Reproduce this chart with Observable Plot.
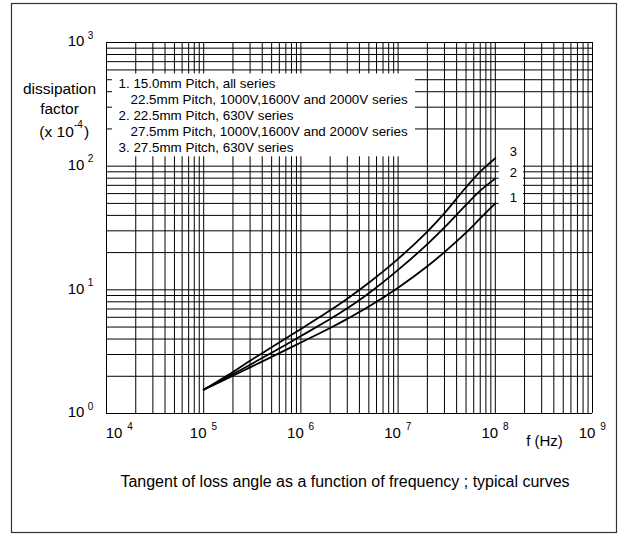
<!DOCTYPE html>
<html>
<head>
<meta charset="utf-8">
<script src="https://cdn.jsdelivr.net/npm/d3@7"></script>
<script src="https://cdn.jsdelivr.net/npm/@observablehq/plot@0.6"></script>
<style>
  html, body { margin: 0; padding: 0; background: #fff; }
  #chart svg { display: block; }
</style>
</head>
<body>
<div id="chart"></div>
<script>
// ---- data ----
const frequencies = [1e5, 2e5, 3e5, 5e5, 1e6, 2e6, 3e6, 5e6, 1e7, 2e7, 3e7, 5e7, 7e7, 1e8];
const curve1 = [1.56, 2.02, 2.36, 2.87, 3.75, 4.91, 5.82, 7.32, 10.4, 15.5, 20.2, 29.0, 37.8, 50.0];
const curve2 = [1.56, 2.08, 2.48, 3.10, 4.23, 5.80, 7.09, 9.39, 14.5, 23.4, 32.0, 48.7, 63.4, 79.3];
const curve3 = [1.56, 2.17, 2.67, 3.43, 4.82, 6.83, 8.48, 11.4, 17.8, 29.6, 41.7, 67.5, 90.3, 116];
const curveNames = ["1", "2", "3"];

const xDecades = [1e4, 1e5, 1e6, 1e7, 1e8, 1e9];
const xExponents = ["4", "5", "6", "7", "8", "9"];
const yDecades = [1, 10, 100, 1000];
const yExponents = ["0", "1", "2", "3"];

const legendLines = [
  "1. 15.0mm Pitch, all series",
  "22.5mm Pitch, 1000V,1600V and 2000V series",
  "2. 22.5mm Pitch, 630V series",
  "27.5mm Pitch, 1000V,1600V and 2000V series",
  "3. 27.5mm Pitch, 630V series"
];
const yTitleLines = ["dissipation", "factor"];
const yTitleUnit = ["(x 10", "-4", ")"];
const xTitle = "f (Hz)";
const caption = "Tangent of loss angle as a function of frequency ; typical curves";

// ---- build table ----
const series = [curve1, curve2, curve3];
const rows = [];
series.forEach((vals, s) => vals.forEach((v, i) => rows.push({f: frequencies[i], v, name: curveNames[s]})));
const ends = series.map((vals, s) => ({f: frequencies[frequencies.length - 1], v: vals[vals.length - 1], name: curveNames[s]}));

const xGrid = d3.scaleLog().domain([1e4, 1e9]).ticks();
const yGrid = d3.scaleLog().domain([1, 1000]).ticks();

const FONT = "'Liberation Sans', Arial, Helvetica, sans-serif";
const C = {textAnchor: "middle", lineAnchor: "middle"};

const marks = [
  Plot.ruleX(xGrid, {x: d => d, stroke: "#000", strokeWidth: 1}),
  Plot.ruleY(yGrid, {y: d => d, stroke: "#000", strokeWidth: 1}),
  // white boxes behind legend and curve numbers
  Plot.rect([0], {x1: 1.15e4, x2: 1.51e7, y1: 119, y2: 557, fill: "white"}),
  Plot.rect([0], {x1: 1.1e8, x2: 1.95e8, y1: 42, y2: 166, fill: "white"}),
  // curves
  Plot.line(rows, {x: "f", y: "v", z: "name", curve: "catmull-rom", stroke: "#000", strokeWidth: 1.8}),
  Plot.text(ends, {x: "f", y: "v", text: "name", dx: 18, dy: -6, fontSize: 13, ...C}),
  // legend
  ...legendLines.map((t, i) => Plot.text([t], {
    text: d => d, frameAnchor: "top-left", textAnchor: "start", lineAnchor: "middle",
    dx: i % 2 ? 24 : 12, dy: 41 + 16 * i, fontSize: 13.4
  })),
  // x tick labels
  Plot.text(xDecades.slice(0, 1), {x: d => d, text: () => "10", frameAnchor: "bottom", dx: 7.5, dy: 20, fontSize: 15, ...C}),
  Plot.text(xDecades.slice(0, 1), {x: d => d, text: () => xExponents[0], frameAnchor: "bottom", dx: 23.5, dy: 13.5, fontSize: 10, ...C}),
  Plot.text(xDecades.slice(1), {x: d => d, text: () => "10", frameAnchor: "bottom", dx: -5.5, dy: 20, fontSize: 15, ...C}),
  Plot.text(xDecades.slice(1), {x: d => d, text: (d, i) => xExponents[i + 1], frameAnchor: "bottom", dx: 10.5, dy: 13.5, fontSize: 10, ...C}),
  // y tick labels
  Plot.text(yDecades, {y: d => d, text: () => "10", frameAnchor: "left", dx: -30.5, dy: -1, fontSize: 15, ...C}),
  Plot.text(yDecades, {y: d => d, text: (d, i) => yExponents[i], frameAnchor: "left", dx: -16, dy: -7, fontSize: 10, ...C}),
  // y title
  Plot.text([yTitleLines[0]], {text: d => d, frameAnchor: "top-left", dx: -47, dy: 47, fontSize: 15.5, ...C}),
  Plot.text([yTitleLines[1]], {text: d => d, frameAnchor: "top-left", dx: -47, dy: 67, fontSize: 15.5, ...C}),
  Plot.text([yTitleUnit[0]], {text: d => d, frameAnchor: "top-left", textAnchor: "end", lineAnchor: "middle", dx: -32.7, dy: 89.7, fontSize: 15.5}),
  Plot.text([yTitleUnit[1]], {text: d => d, frameAnchor: "top-left", textAnchor: "start", lineAnchor: "middle", dx: -32.5, dy: 82.5, fontSize: 10}),
  Plot.text([yTitleUnit[2]], {text: d => d, frameAnchor: "top-left", textAnchor: "start", lineAnchor: "middle", dx: -22.5, dy: 89.7, fontSize: 15.5}),
  // x title
  Plot.text([xTitle], {text: d => d, frameAnchor: "bottom-right", dx: -48, dy: 28, fontSize: 15, ...C}),
  // caption
  Plot.text([caption], {text: d => d, frameAnchor: "bottom", dx: -4.5, dy: 68.5, fontSize: 16, ...C})
];

const chart = Plot.plot({
  width: 623,
  height: 534,
  marginLeft: 106,
  marginRight: 31,
  marginTop: 42,
  marginBottom: 121,
  style: {fontFamily: FONT, background: "#fff", color: "#000"},
  x: {type: "log", domain: [1e4, 1e9], axis: null},
  y: {type: "log", domain: [1, 1000], axis: null},
  marks
});

d3.select(chart).append("rect")
  .attr("x", 11.5).attr("y", 3.5).attr("width", 605).attr("height", 529)
  .attr("fill", "none").attr("stroke", "#333").attr("stroke-width", 1.2);

document.getElementById("chart").appendChild(chart);
</script>
</body>
</html>
